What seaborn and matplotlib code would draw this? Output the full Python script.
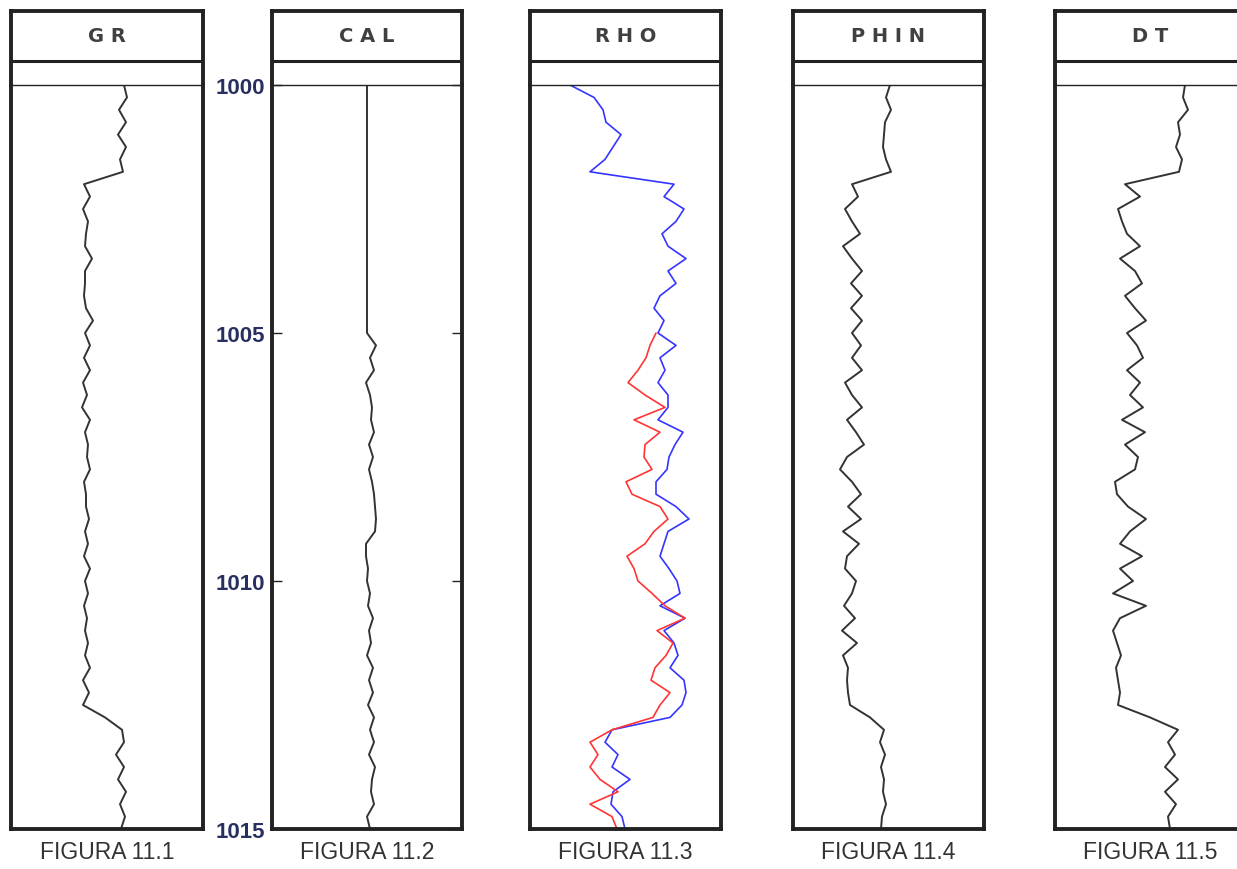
import numpy as np
import pandas as pd
import matplotlib
matplotlib.use("Agg")
import matplotlib.pyplot as plt
import seaborn as sns
from matplotlib import font_manager

# depth grid (ft) and curve readings, in divisions across each 190-wide track
depth = np.arange(1000, 1015.01, 0.25)

gr = [113, 116, 108, 115, 107, 115, 109, 112, 73, 79, 72, 77, 75, 74, 81, 74,
      74, 73, 75, 82, 74, 79, 73, 79, 72, 76, 71, 79, 74, 77, 76, 79, 73, 75,
      75, 78, 74, 77, 73, 79, 74, 77, 73, 76, 74, 77, 74, 79, 72, 78, 72, 94,
      111, 113, 105, 113, 107, 115, 109, 114, 110]
cal = [95] * 21 + [104, 98, 102, 94, 98, 100, 99, 102, 97, 101, 97, 100, 102,
                   103, 104, 103, 94, 94, 96, 95, 98, 96, 101, 97, 99, 95, 101,
                   97, 101, 96, 102, 98, 102, 97, 103, 100, 99, 102, 95, 98]
rho_blue = [40, 64, 73, 76, 91, 83, 75, 60, 144, 134, 154, 146, 132, 138, 156,
            138, 146, 130, 124, 134, 128, 146, 130, 135, 128, 138, 138, 128,
            153, 145, 139, 137, 126, 126, 146, 159, 138, 134, 130, 139, 147,
            150, 130, 155, 134, 144, 148, 140, 154, 156, 152, 140, 82, 75, 88,
            82, 100, 83, 81, 92, 95]
rho_red = [np.nan] * 20 + [126, 120, 116, 108, 98, 115, 135, 104, 130, 115,
                           114, 122, 96, 102, 130, 138, 124, 115, 97, 104, 108,
                           122, 135, 155, 127, 143, 136, 125, 121, 140, 130,
                           123, 82, 60, 68, 60, 70, 88, 60, 82, 87]
phin = [97, 93, 98, 92, 91, 90, 93, 98, 59, 65, 52, 59, 67, 50, 59, 69, 58, 69,
        58, 69, 59, 68, 59, 69, 52, 59, 69, 54, 63, 71, 54, 47, 59, 68, 55, 68,
        50, 66, 54, 52, 63, 59, 51, 62, 49, 64, 50, 55, 54, 55, 57, 77, 91, 87,
        92, 88, 91, 90, 93, 89, 88]
dt = [130, 128, 133, 123, 125, 121, 127, 124, 70, 85, 63, 67, 72, 85, 65, 80,
      87, 70, 80, 91, 72, 82, 88, 72, 85, 75, 88, 67, 90, 70, 83, 80, 60, 62,
      73, 91, 75, 65, 87, 65, 78, 58, 91, 65, 58, 62, 66, 61, 63, 65, 63, 95,
      123, 113, 120, 110, 123, 110, 121, 113, 115]

titles = ["GR", "CAL", "RHO", "PHIN", "DT"]
captions = ["FIGURA 11.1", "FIGURA 11.2", "FIGURA 11.3", "FIGURA 11.4", "FIGURA 11.5"]
depth_ticks = [1000, 1005, 1010, 1015]

logs = pd.DataFrame({"depth": depth, "GR": gr, "CAL": cal, "RHO": rho_blue,
                     "RHO2": rho_red, "PHIN": phin, "DT": dt})

sns.set_style("white")
names = {f.name for f in font_manager.fontManager.ttflist}
if "Liberation Sans Narrow" in names:
    cap_font, cap_size = "Liberation Sans Narrow", 19.5
else:
    cap_font, cap_size = "Liberation Sans", 16.5

W, H = 1237, 870
fig = plt.figure(figsize=(W / 100, H / 100), dpi=100)


def box(left, top, width, height):
    return [left / W, 1 - (top + height) / H, width / W, height / H]


lefts = [11, 272, 530, 793, 1055]
widths = [192, 190, 191, 191, 191]
edge = "#222222"
ink = "#333333"

for i, name in enumerate(titles):
    left, width = lefts[i], widths[i]

    # header boxes
    hdr = fig.add_axes(box(left, 12, width, 74))
    hdr.set_xlim(0, 1)
    hdr.set_ylim(0, 74)
    hdr.set_xticks([])
    hdr.set_yticks([])
    for s in ["left", "right", "top"]:
        hdr.spines[s].set_linewidth(2.8)
        hdr.spines[s].set_color(edge)
    hdr.spines["bottom"].set_visible(False)
    hdr.axhline(24, color=edge, lw=2.2)
    hdr.text(0.5, 49, " ".join(name), ha="center", va="center",
             fontsize=14, fontweight="bold", color="#404040",
             family="DejaVu Sans")

    # log track
    ax = fig.add_axes(box(left, 86, width, 744))
    if name == "RHO":
        sns.lineplot(data=logs, x="RHO", y="depth", orient="y", estimator=None,
                     color="#3535ff", lw=1.2, ax=ax)
        sns.lineplot(data=logs, x="RHO2", y="depth", orient="y", estimator=None,
                     color="#ff3535", lw=1.2, ax=ax)
    else:
        sns.lineplot(data=logs, x=name, y="depth", orient="y", estimator=None,
                     color=ink, lw=1.4, ax=ax)
    ax.set_xlim(0, width)
    ax.set_ylim(1015, 1000)
    ax.set_xlabel("")
    ax.set_ylabel("")
    ax.set_xticks([])
    for s in ["left", "right", "bottom"]:
        ax.spines[s].set_linewidth(2.8)
        ax.spines[s].set_color(edge)
    ax.spines["top"].set_linewidth(1.0)
    ax.spines["top"].set_color(edge)

    if name == "CAL":
        ax.set_yticks(depth_ticks)
        ax.set_yticklabels([str(d) for d in depth_ticks], fontsize=16,
                           fontweight="bold", color="#283060",
                           family="Liberation Sans")
        ax.tick_params(axis="y", direction="in", length=7, width=1.0,
                       color=edge, left=True, right=True, pad=5)
    else:
        ax.set_yticks([])

    fig.text((left + width / 2) / W, 1 - 853 / H, captions[i], ha="center",
             va="center", fontsize=cap_size, color="#333333", family=cap_font)

fig.savefig("out.png", dpi=100)
